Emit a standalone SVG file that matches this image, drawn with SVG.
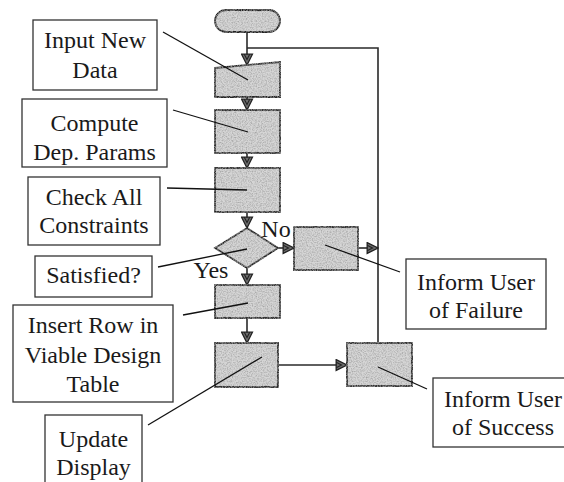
<svg xmlns="http://www.w3.org/2000/svg" width="564" height="482" viewBox="0 0 564 482">
<style>
.node{fill:#d6d6d6;stroke:#222;stroke-width:1.8;filter:url(#grain)}
.lbl{fill:#fff;stroke:#333;stroke-width:1.3}
.t{font-family:"Liberation Serif","Times New Roman",serif;font-size:24px;fill:#1a1a1a;text-anchor:middle}
.flow{fill:none;stroke:#2a2a2a;stroke-width:1.6}
.leader{fill:none;stroke:#111;stroke-width:1.3}
</style>
<defs>
<filter id="grain" x="-5%" y="-5%" width="110%" height="110%">
<feTurbulence type="fractalNoise" baseFrequency="0.8" numOctaves="2" seed="3" result="n"/>
<feColorMatrix in="n" type="matrix" values="0 0 0 0 0.35  0 0 0 0 0.35  0 0 0 0 0.35  0 0 0 -1.8 1.15" result="dots"/>
<feComposite in="dots" in2="SourceGraphic" operator="atop"/>
</filter>
<marker id="ah" viewBox="0 0 12 12" refX="11" refY="6" markerWidth="13" markerHeight="13" markerUnits="userSpaceOnUse" orient="auto">
<path d="M1,1 L11,6 L1,11 Z" fill="#6e6e6e" stroke="#222" stroke-width="1.2"/>
<path d="M1,3.5 L6,6 L1,8.5" fill="none" stroke="#222" stroke-width="1"/>
</marker>
</defs>
<rect width="564" height="482" fill="#fff"/>
<g id="connectors">
<line class="flow" x1="247" y1="32" x2="247" y2="65" marker-end="url(#ah)"/>
<polyline class="flow" points="378,343 378,48 247,48" stroke="#444"/>
<line class="flow" x1="247" y1="97" x2="247" y2="110" marker-end="url(#ah)"/>
<line class="flow" x1="247" y1="153" x2="247" y2="168" marker-end="url(#ah)"/>
<line class="flow" x1="247" y1="212" x2="247" y2="228" marker-end="url(#ah)"/>
<line class="flow" x1="278" y1="248" x2="294" y2="248" marker-end="url(#ah)"/>
<line class="flow" x1="358" y1="248" x2="378" y2="248" marker-end="url(#ah)"/>
<line class="flow" x1="247" y1="268" x2="247" y2="285" marker-end="url(#ah)"/>
<line class="flow" x1="247" y1="318" x2="247" y2="343" marker-end="url(#ah)"/>
<line class="flow" x1="278" y1="365" x2="347" y2="365" marker-end="url(#ah)"/>
<text class="t" x="276" y="237">No</text>
<text class="t" x="211" y="278">Yes</text>
</g>
<g id="start"><rect class="node" x="215" y="10" width="65" height="22" rx="11"/></g>
<g id="input"><polygon class="node" points="215,68 280,62 280,97 215,97"/></g>
<g id="compute"><rect class="node" x="215" y="110" width="65" height="43"/></g>
<g id="check"><rect class="node" x="215" y="168" width="65" height="44"/></g>
<g id="decision"><polygon class="node" points="247,228 278,248 247,268 215,248"/></g>
<g id="failure"><rect class="node" x="294" y="227" width="64" height="43"/></g>
<g id="insert"><rect class="node" x="215" y="285" width="65" height="33"/></g>
<g id="update"><rect class="node" x="215" y="343" width="63" height="44"/></g>
<g id="success"><rect class="node" x="347" y="343" width="65" height="43"/></g>
<g id="leaders">
<line class="leader" x1="163" y1="32" x2="248" y2="80"/>
<line class="leader" x1="173" y1="110" x2="248" y2="132"/>
<line class="leader" x1="167" y1="188" x2="247" y2="190"/>
<line class="leader" x1="158" y1="267" x2="247" y2="249"/>
<line class="leader" x1="183" y1="315" x2="248" y2="303"/>
<line class="leader" x1="148" y1="425" x2="262" y2="357"/>
<line class="leader" x1="325" y1="245" x2="400" y2="272"/>
<line class="leader" x1="378" y1="367" x2="427" y2="389"/>
</g>
<g id="lbl-input"><rect class="lbl" x="33" y="20" width="124" height="70"/><text class="t" x="95" y="48">Input New</text><text class="t" x="95" y="78">Data</text></g>
<g id="lbl-compute"><rect class="lbl" x="22" y="99" width="145" height="68"/><text class="t" x="94.5" y="131">Compute</text><text class="t" x="94.5" y="160">Dep. Params</text></g>
<g id="lbl-check"><rect class="lbl" x="28" y="177" width="132" height="68"/><text class="t" x="94" y="205">Check All</text><text class="t" x="94" y="233">Constraints</text></g>
<g id="lbl-satisfied"><rect class="lbl" x="35" y="256" width="117" height="41"/><text class="t" x="93.5" y="283">Satisfied?</text></g>
<g id="lbl-insert"><rect class="lbl" x="13" y="305" width="160" height="97"/><text class="t" x="93" y="333">Insert Row in</text><text class="t" x="93" y="363">Viable Design</text><text class="t" x="93" y="392">Table</text></g>
<g id="lbl-update"><rect class="lbl" x="45" y="415" width="97" height="75"/><text class="t" x="93.5" y="447">Update</text><text class="t" x="93.5" y="475">Display</text></g>
<g id="lbl-failure"><rect class="lbl" x="406" y="259" width="140" height="70"/><text class="t" x="476" y="290">Inform User</text><text class="t" x="476" y="318">of Failure</text></g>
<g id="lbl-success"><rect class="lbl" x="433" y="378" width="140" height="69"/><text class="t" x="503" y="407">Inform User</text><text class="t" x="503" y="435">of Success</text></g>
</svg>
